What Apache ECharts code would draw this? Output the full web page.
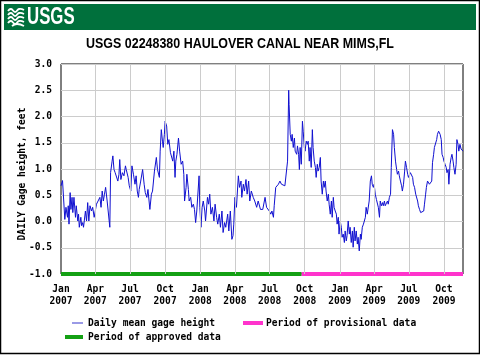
<!DOCTYPE html>
<html>
<head>
<meta charset="utf-8">
<script src="https://cdn.jsdelivr.net/npm/echarts@6/dist/echarts.min.js"></script>
<style>
html,body{margin:0;padding:0;background:#fff;}
#chart{width:480px;height:355px;}
</style>
</head>
<body>
<div id="chart"></div>
<script>
// ---- data ----
const startDate = '2007-01-01';
const chartTitle = 'USGS 02248380 HAULOVER CANAL NEAR MIMS,FL';
const yAxisTitle = 'DAILY Gage height, feet';
const yTicks = [-1.0, -0.5, 0.0, 0.5, 1.0, 1.5, 2.0, 2.5, 3.0];
const xTickDates = ['2007-01-01','2007-04-01','2007-07-01','2007-10-01','2008-01-01','2008-04-01','2008-07-01','2008-10-01','2009-01-01','2009-04-01','2009-07-01','2009-10-01'];
const xTickLabels = ['Jan\n2007','Apr\n2007','Jul\n2007','Oct\n2007','Jan\n2008','Apr\n2008','Jul\n2008','Oct\n2008','Jan\n2009','Apr\n2009','Jul\n2009','Oct\n2009'];
// days since startDate
const dayOffset = [0,4,8,10,13,17,19,21,24,26,29,31,34,38,40,44,46,48,52,54,57,59,61,64,67,70,73,76,80,83,87,93,98,102,105,108,111,114,117,121,125,128,130,134,136,139,142,146,149,152,154,157,161,165,169,171,176,179,183,186,190,194,197,200,203,205,209,214,218,221,225,228,233,237,240,245,250,253,258,260,263,266,268,271,273,277,280,283,287,290,293,296,299,301,304,308,311,315,319,322,324,328,330,334,336,340,343,347,350,353,356,362,364,367,370,373,377,379,384,387,390,393,397,401,404,408,411,415,418,422,425,429,432,437,440,444,448,451,453,456,460,465,468,472,474,478,481,485,488,492,495,499,504,508,513,517,523,529,535,539,546,
550,553,557,559,563,565,570,574,578,583,587,591,594,597,598,601,604,606,609,612,614,618,620,623,625,627,630,633,635,638,640,643,646,648,651,653,656,659,661,664,667,669,672,674,677,680,682,685,688,690,693,695,698,701,703,706,709,711,714,716,719,722,724,727,729,732,735,737,740,743,745,748,750,753,756,758,761,764,766,769,771,774,777,779,782,785,787,790,793,795,798,800,803,806,808,811,814,816,819,821,824,827,829,832,835,837,840,843,845,848,850,853,856,858,861,864,866,869,872,874,877,880,882,885,887,890,893,895,898,901,903,906,909,911,914,916,919,922,924,927,930,932,935,937,940,943,945,948,951,953,956,958,961,964,966,969,972,974,977,979,982,985,987,990,991,994,997,999,1002,1004,1007,1010,1012,1015,1017,1020,1023,1025,1028,1030,1033,1036,1038,1041,1043,1046,1049,1051,1054];
const gageHeight = [0.68,0.78,0.77,0.04,0.27,0.08,0.30,-0.05,0.55,0.23,0.46,0.17,0.46,0.08,0.30,0.01,0.14,-0.11,0.08,-0.08,-0.02,-0.11,0.01,0.20,0.01,0.36,0.01,0.30,0.20,0.27,0.08,0.33,0.30,0.46,0.27,0.58,0.39,0.52,0.65,0.39,0.42,-0.11,0.93,1.15,1.25,0.99,0.93,0.96,0.77,0.90,1.18,0.80,0.93,0.87,1.06,0.99,0.84,0.68,0.58,1.06,0.90,0.71,0.87,0.58,0.46,0.61,0.77,0.99,0.71,0.55,0.46,0.61,0.23,0.52,0.58,0.96,1.22,0.99,0.84,1.34,1.75,1.53,1.41,1.66,1.91,1.82,1.47,1.56,1.31,1.28,1.15,1.34,0.84,1.15,1.28,1.59,1.34,1.09,1.15,0.90,0.39,0.65,0.90,0.61,0.39,0.46,0.27,0.33,0.23,-0.02,0.20,0.87,0.27,-0.11,0.27,0.39,0.20,0.01,0.46,0.33,0.52,0.14,0.27,0.01,0.33,0.08,-0.05,0.14,-0.11,0.20,-0.21,-0.02,-0.11,0.14,-0.18,0.20,-0.34,-0.27,-0.05,0.46,0.27,0.87,0.65,0.77,0.46,0.71,0.58,0.80,0.52,0.77,0.39,0.58,0.46,0.39,0.27,0.39,0.23,0.23,0.46,0.27,0.20,
0.14,0.20,0.08,0.30,0.65,0.68,0.71,0.77,0.71,0.74,0.68,0.68,1.15,2.50,2.23,1.66,1.53,1.66,1.41,1.59,1.34,1.28,1.44,1.28,0.99,1.41,1.09,1.91,1.72,1.41,1.34,1.53,1.47,1.53,1.15,1.41,1.03,1.75,1.41,1.15,1.03,0.84,1.09,0.96,1.03,1.22,0.77,0.52,0.77,0.65,0.77,0.58,0.39,0.52,0.33,0.14,0.39,0.08,0.46,0.27,0.20,0.14,-0.05,0.08,-0.24,0.01,-0.11,-0.30,-0.24,-0.40,-0.18,-0.37,-0.27,0.01,-0.24,-0.11,-0.40,-0.18,-0.49,-0.11,-0.37,-0.18,-0.43,-0.30,-0.56,-0.24,-0.34,-0.11,-0.05,-0.02,0.08,0.27,0.14,0.14,0.39,0.77,0.87,0.71,0.65,0.71,0.52,0.42,0.39,0.27,0.08,0.39,0.30,0.36,0.30,0.39,0.30,0.33,0.39,0.33,0.46,0.52,1.03,1.75,1.66,1.41,1.15,0.99,0.90,0.96,0.87,0.77,0.68,0.58,0.71,0.96,1.15,1.03,0.90,0.84,0.87,0.93,0.90,0.84,0.71,0.65,0.52,0.49,0.39,0.30,0.23,0.17,0.14,0.15,0.20,0.33,0.52,0.65,0.77,0.80,0.71,0.74,0.77,1.12,1.28,1.41,1.44,1.56,1.66,1.72,1.75,1.66,1.56,1.28,1.22,1.15,1.09,1.03,0.93,0.99,0.71,1.09,1.22,1.28,1.15,1.03,0.90,1.09,1.56,1.47,1.34,1.47,1.38,1.41,1.34];
// approval periods (day offsets)
const approvedPeriod = [0, 631];
const provisionalPeriod = [631, 1054];
const legendLabels = ['Daily mean gage height', 'Period of provisional data', 'Period of approved data'];

// ---- build ----
const DAY = 86400000;
const t0 = Date.parse(startDate + 'T00:00:00Z');
const toT = d => t0 + d * DAY;
const lineData = dayOffset.map((d, i) => [toT(d), gageHeight[i]]);
const tickTimes = xTickDates.map(s => Date.parse(s + 'T00:00:00Z'));
const labelMap = {};
tickTimes.forEach((t, i) => { labelMap[t] = xTickLabels[i]; });
const xMin = toT(0), xMax = toT(dayOffset[dayOffset.length - 1]);
const yMin = yTicks[0], yMax = yTicks[yTicks.length - 1];

const monoFont = '"DejaVu Sans Mono", monospace';
const sansFont = '"Liberation Sans", Arial, sans-serif';
const chart = echarts.init(document.getElementById('chart'), null, {renderer: 'canvas'});
chart.setOption({
  animation: false,
  backgroundColor: '#fff',
  grid: {left: 61, top: 64, width: 402, height: 210, show: true, borderColor: '#000', borderWidth: 1, backgroundColor: 'transparent'},
  xAxis: {
    type: 'value', min: xMin, max: xMax, scale: true,
    axisLine: {show: false}, axisTick: {show: false}, splitLine: {show: false},
    axisLabel: {
      customValues: tickTimes,
      formatter: v => labelMap[v] || '',
      color: '#000', fontFamily: monoFont, fontWeight: 'bold', fontSize: 9.6, lineHeight: 12, margin: 9
    }
  },
  yAxis: {
    type: 'value', min: yMin, max: yMax, interval: 0.5,
    axisLine: {show: false}, axisTick: {show: false},
    splitLine: {show: true, lineStyle: {color: '#cccccc', width: 1}},
    axisLabel: {formatter: v => v.toFixed(1), color: '#000', fontFamily: monoFont, fontWeight: 'bold', fontSize: 9.6, margin: 9}
  },
  series: [
    {
      type: 'line', data: [], z: 1, silent: true,
      markLine: {
        silent: true, symbol: 'none', animation: false,
        label: {show: false},
        lineStyle: {color: '#cccccc', width: 1, type: 'solid'},
        emphasis: {disabled: true},
        data: tickTimes.slice(1).map(t => ({xAxis: t}))
      }
    },
    {
      name: legendLabels[0], type: 'line', data: lineData, z: 3,
      showSymbol: false, symbol: 'none',
      lineStyle: {color: '#1010d0', width: 1}
    },
    {
      name: legendLabels[2], type: 'line', z: 4, clip: false, showSymbol: false, symbol: 'none',
      data: approvedPeriod.map(d => [toT(d), yMin]),
      lineStyle: {color: '#14a014', width: 4}
    },
    {
      name: legendLabels[1], type: 'line', z: 4, clip: false, showSymbol: false, symbol: 'none',
      data: provisionalPeriod.map(d => [toT(d), yMin]),
      lineStyle: {color: '#ff33cc', width: 4}
    }
  ],
  graphic: [
    {type: 'rect', shape: {x: 0.5, y: 0.5, width: 479, height: 353}, style: {fill: 'none', stroke: '#000', lineWidth: 1.5}, z: 100},
    {type: 'rect', shape: {x: 4, y: 4, width: 472, height: 26}, style: {fill: '#00703c'}, z: 10},
    {type: 'polyline', shape: {points: [[8,11],[11,9],[15,12],[19,9],[24,10]], smooth: 0.5}, style: {stroke: '#fff', lineWidth: 1.8, fill: 'none'}, z: 11},
    {type: 'polyline', shape: {points: [[8,15],[11,13],[15,16],[19,13],[24,14]], smooth: 0.5}, style: {stroke: '#fff', lineWidth: 1.8, fill: 'none'}, z: 11},
    {type: 'polyline', shape: {points: [[8,19],[11,17],[15,20],[19,17],[24,18]], smooth: 0.5}, style: {stroke: '#fff', lineWidth: 1.8, fill: 'none'}, z: 11},
    {type: 'polyline', shape: {points: [[8,23],[11,21],[15,24],[19,21],[24,22]], smooth: 0.5}, style: {stroke: '#fff', lineWidth: 1.8, fill: 'none'}, z: 11},
    {type: 'polyline', shape: {points: [[12,26],[17,24],[24,26]], smooth: 0.5}, style: {stroke: '#fff', lineWidth: 1.8, fill: 'none'}, z: 11},
    {type: 'text', x: 27, y: 17, scaleX: 0.7, z: 11, style: {text: 'USGS', fill: '#fff', font: 'bold 24px ' + sansFont, verticalAlign: 'middle', align: 'left'}},
    {type: 'text', x: 240, y: 44, scaleX: 0.83, z: 11, style: {text: chartTitle, fill: '#000', font: 'bold 15px ' + sansFont, align: 'center', verticalAlign: 'middle'}},
    {type: 'text', x: 22, y: 174, rotation: Math.PI / 2, z: 11, style: {text: yAxisTitle, fill: '#000', font: 'bold 9.6px ' + monoFont, align: 'center', verticalAlign: 'middle'}},
    // legend
    {type: 'line', shape: {x1: 72, y1: 323, x2: 83, y2: 323}, style: {stroke: '#9a9ae6', lineWidth: 2}, z: 11},
    {type: 'text', x: 88, y: 323, z: 11, style: {text: legendLabels[0], fill: '#000', font: 'bold 9.6px ' + monoFont, verticalAlign: 'middle'}},
    {type: 'line', shape: {x1: 243, y1: 323, x2: 263, y2: 323}, style: {stroke: '#ff33cc', lineWidth: 4}, z: 11},
    {type: 'text', x: 266, y: 323, z: 11, style: {text: legendLabels[1], fill: '#000', font: 'bold 9.6px ' + monoFont, verticalAlign: 'middle'}},
    {type: 'line', shape: {x1: 65, y1: 337, x2: 83, y2: 337}, style: {stroke: '#14a014', lineWidth: 4}, z: 11},
    {type: 'text', x: 88, y: 337, z: 11, style: {text: legendLabels[2], fill: '#000', font: 'bold 9.6px ' + monoFont, verticalAlign: 'middle'}}
  ]
});
</script>
</body>
</html>
